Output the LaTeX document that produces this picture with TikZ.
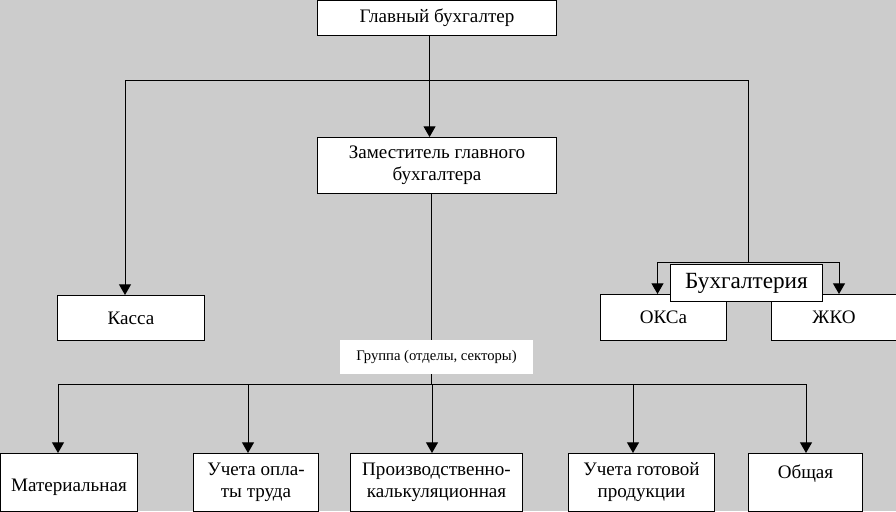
\documentclass[tikz,border=0pt]{standalone}
\usepackage{fontspec}
\setmainfont{Liberation Serif}
\usetikzlibrary{arrows.meta}

\definecolor{bgColor}{RGB}{204,204,204}
\definecolor{boxColor}{RGB}{255,255,255}

\tikzset{
  unit/.style 2 args={draw, fill=boxColor, line width=.75pt, anchor=north west,
    minimum width=#1*0.75pt, minimum height=#2*0.75pt, inner sep=0pt,
    align=center, font=\fontsize{14.3}{16.5}\selectfont},
  link/.style={line width=.75pt, -{Triangle[width=9pt,length=8pt]}},
  wire/.style={line width=.75pt}
}

\begin{document}
\begin{tikzpicture}[x=0.75pt,y=-0.75pt]
  \fill[bgColor] (0,0) rectangle (896,511);
  \useasboundingbox (0,0) rectangle (896,511);
  % Top
  \node[unit={239}{35}] (chief) at (317,0) {Главный бухгалтер};
  \node[unit={239}{56}] (zam) at (317,137) {Заместитель главного\\бухгалтера};
  \node[unit={147}{45}] (kassa) at (57,295) {Касса};
  \node[unit={126}{46}] (oksa) at (600,294) {ОКСа};
  \node[unit={125}{46}] (zhko) at (771,294) {ЖКО};
  \node[unit={152}{37}, font=\fontsize{17.4}{20}\selectfont] (buh) at (670,264) {Бухгалтерия};
  \draw[link] ([xshift=-5.6pt]chief.south) -- ([xshift=-5.6pt]zam.north);
  \coordinate (busL) at (125,80);
  \coordinate (busR) at (748,80);
  \coordinate (buhTop) at (748,262);
  \draw[wire] (busL) -- (busR) -- (buhTop);
  \draw[link] (busL) -- (busL |- kassa.north);
  \draw[link] (buhTop) -| ([xshift=-4.5pt]oksa.north);
  \draw[link] (buhTop) -| ([xshift=3.75pt]zhko.north);
  % Groups
  \node[unit={137}{58}] (mat) at (0,453) {~\\Материальная};
  \node[unit={125}{58}] (opl) at (193,453) {Учета опла-\\ты труда};
  \node[unit={172}{58}] (proizv) at (350,453) {Производственно-\\калькуляционная};
  \node[unit={146}{58}] (gotov) at (568,453) {Учета готовой\\продукции};
  \node[unit={114}{58}] (obsh) at (748,453) {Общая\\~};
  \coordinate (grpL) at (58,384);
  \coordinate (grpR) at (806,384);
  \draw[wire] ([xshift=-4.1pt]zam.south) -- ([xshift=-4.1pt]zam.south |- grpL);
  \draw[wire] (grpL) -- (grpR);
  \foreach \u/\x in {mat/58, opl/248, proizv/432, gotov/633, obsh/806}{
    \coordinate (tap) at (\x,384);
    \draw[link] (tap) -- (tap |- \u.north);
  }
  \node[fill=boxColor, minimum width=193*0.75pt, minimum height=34*0.75pt, inner sep=0pt,
    font=\fontsize{11}{13}\selectfont] (grp) at (436.5,357) {Группа (отделы, секторы)};
\end{tikzpicture}
\end{document}
